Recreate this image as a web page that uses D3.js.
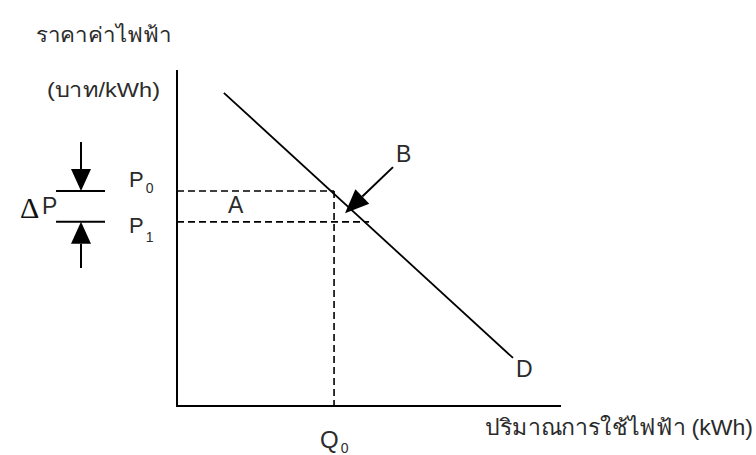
<!DOCTYPE html>
<html><head><meta charset="utf-8">
<script src="https://cdn.jsdelivr.net/npm/d3@7"></script>
<style>
html,body{margin:0;padding:0;background:#fff;}
text{font-family:"Liberation Sans",Arial,"Noto Sans",sans-serif;fill:#2b2b2b;}
</style></head>
<body><svg id="c" width="756" height="455"></svg>
<script>
// Conceptual data (arbitrary units 0..100)
const demandLine = [{q: 12.2, p: 93.2}, {q: 87.5, p: 14.3}];
const priceLevels = [{name: "P", sub: "0", p: 64.0, dashEnd: 40.9}, {name: "P", sub: "1", p: 54.8, dashEnd: 50.0}];
const quantityLevels = [{name: "Q", sub: "0", q: 40.9, p: 64.0}];
const arrowB = [{q: 56.25, p: 71.1}, {q: 43.75, p: 57.4}];
const deltaArrows = [{from: 78.6, to: 64.0}, {from: 41.1, to: 54.8}];
const deltaX = -25, deltaBarLeft = -31.5, deltaBarRight = -18.75;
const axisLabels = {y1: "ราคาค่าไฟฟ้า", y2: "(บาท/kWh)", x: "ปริมาณการใช้ไฟฟ้า (kWh)"};

const svg = d3.select("#c");
const x = d3.scaleLinear().domain([0, 100]).range([177, 561]);
const y = d3.scaleLinear().domain([0, 100]).range([406, 70]);

// axes
svg.append("line").attr("x1", x(0)).attr("x2", x(0)).attr("y1", y(100)).attr("y2", y(0))
  .attr("stroke", "#000").attr("stroke-width", 2);
svg.append("line").attr("x1", x(0) - 1).attr("x2", x(100)).attr("y1", y(0)).attr("y2", y(0))
  .attr("stroke", "#000").attr("stroke-width", 2);

// dashed guide lines
priceLevels.forEach(d => {
  svg.append("line").attr("x1", x(0)).attr("x2", x(d.dashEnd)).attr("y1", y(d.p)).attr("y2", y(d.p))
    .attr("stroke", "#000").attr("stroke-width", 1.6).attr("stroke-dasharray", "7,4");
});
quantityLevels.forEach(d => {
  svg.append("line").attr("x1", x(d.q)).attr("x2", x(d.q)).attr("y1", y(d.p)).attr("y2", y(0))
    .attr("stroke", "#000").attr("stroke-width", 1.6).attr("stroke-dasharray", "7,4");
});

// demand line
svg.append("path").datum(demandLine)
  .attr("d", d3.line().x(d => x(d.q)).y(d => y(d.p)))
  .attr("stroke", "#000").attr("stroke-width", 1.8).attr("fill", "none");

function arrow(x1, y1, x2, y2, len, half) {
  const dx = x2 - x1, dy = y2 - y1, L = Math.hypot(dx, dy);
  const ux = dx / L, uy = dy / L;
  const bx = x2 - ux * len, by = y2 - uy * len;
  svg.append("line").attr("x1", x1).attr("y1", y1).attr("x2", bx).attr("y2", by)
    .attr("stroke", "#000").attr("stroke-width", 2);
  svg.append("polygon")
    .attr("points", [[x2, y2], [bx - uy * half, by + ux * half], [bx + uy * half, by - ux * half]].map(p => p.join(",")).join(" "))
    .attr("fill", "#000");
}

// B arrow
arrow(x(arrowB[0].q), y(arrowB[0].p), x(arrowB[1].q), y(arrowB[1].p), 24, 10);

// Delta P construction
priceLevels.forEach(d => {
  svg.append("line").attr("x1", x(deltaBarLeft)).attr("x2", x(deltaBarRight)).attr("y1", y(d.p)).attr("y2", y(d.p))
    .attr("stroke", "#000").attr("stroke-width", 2);
});
deltaArrows.forEach(d => arrow(x(deltaX), y(d.from), x(deltaX), y(d.to), 22, 10));

// labels
function sublabel(px, py, main, sub, fs, subDy) {
  const t = svg.append("text").attr("x", px).attr("y", py).attr("font-size", fs);
  t.append("tspan").text(main);
  t.append("tspan").attr("dy", subDy).attr("dx", 2).attr("font-size", 14).text(sub);
}
sublabel(129, 187, priceLevels[0].name, priceLevels[0].sub, 22, 6);
sublabel(129, 233, priceLevels[1].name, priceLevels[1].sub, 22, 9);
sublabel(x(quantityLevels[0].q) - 14, 448, quantityLevels[0].name, quantityLevels[0].sub, 24, 5);

svg.append("text").attr("x", 228).attr("y", 213).attr("font-size", 23).text("A");
svg.append("text").attr("x", 396).attr("y", 162).attr("font-size", 23).text("B");
svg.append("text").attr("x", 516).attr("y", 377).attr("font-size", 23).text("D");
svg.append("text").attr("x", 20).attr("y", 218).attr("font-size", 30)
  .attr("style", "font-family:'Liberation Serif','DejaVu Serif',serif;fill:#111").text("Δ");
svg.append("text").attr("x", 42).attr("y", 214).attr("font-size", 23).text("P");

svg.append("text").attr("x", 36).attr("y", 42).attr("font-size", 21)
  .attr("textLength", 136).attr("lengthAdjust", "spacingAndGlyphs").text(axisLabels.y1);
svg.append("text").attr("x", 47).attr("y", 97).attr("font-size", 21)
  .attr("textLength", 113).attr("lengthAdjust", "spacingAndGlyphs").text(axisLabels.y2);
svg.append("text").attr("x", 485).attr("y", 435).attr("font-size", 22)
  .attr("textLength", 268).attr("lengthAdjust", "spacingAndGlyphs").text(axisLabels.x);
</script></body></html>
